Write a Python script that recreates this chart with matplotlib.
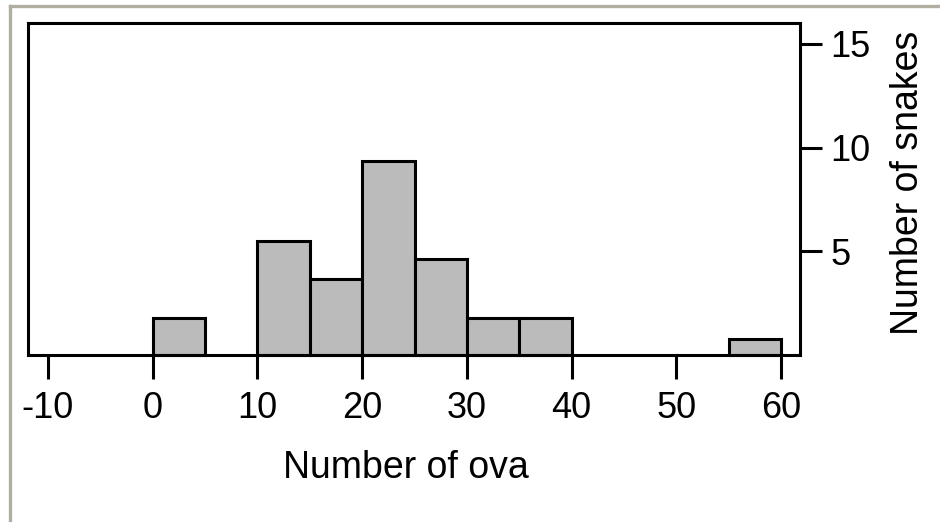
import matplotlib
matplotlib.use("Agg")
import matplotlib.pyplot as plt
from matplotlib.lines import Line2D

plt.rcParams['font.family'] = ['Liberation Sans', 'DejaVu Sans']

# histogram of ova per snake (bins 5 wide)
bin_left = [0, 10, 15, 20, 25, 30, 35, 55]
snakes = [1.8, 5.5, 3.65, 9.35, 4.65, 1.8, 1.8, 0.75]
bin_width = 5
x_ticks = [-10, 0, 10, 20, 30, 40, 50, 60]
y_ticks = [5, 10, 15]

W, H = 940, 522
fig = plt.figure(figsize=(W / 100, H / 100), dpi=100)
fig.patch.set_facecolor('white')

# thin grey frame on the top and left edges
frame_c = '#b1ada1'
fig.add_artist(Line2D([9.5 / W, 9.5 / W], [0, 1 - 5.5 / H],
                      transform=fig.transFigure, color=frame_c, lw=2.4))
fig.add_artist(Line2D([9.5 / W, 1], [1 - 5.5 / H, 1 - 5.5 / H],
                      transform=fig.transFigure, color=frame_c, lw=2.4))

ax = fig.add_axes([28 / W, 1 - 355 / H, (800 - 28) / W, (355 - 23) / H])
ax.bar(bin_left, snakes, width=bin_width, align='edge', color='#bbbbbb',
       edgecolor='black', linewidth=2.2, clip_on=False, zorder=3)

ax.set_xlim(-11.9, 61.8)
ax.set_ylim(0, 16)
ax.set_xticks(x_ticks)
ax.set_xticklabels([str(v) for v in x_ticks])
ax.set_yticks(y_ticks)
ax.yaxis.tick_right()

for s in ax.spines.values():
    s.set_linewidth(2.2)
    s.set_zorder(4)

ax.tick_params(axis='x', direction='out', length=17, width=2.2,
               labelsize=26, pad=9)
ax.tick_params(axis='y', direction='out', length=16, width=2.2,
               labelsize=26, pad=6)

fig.text(405.5 / W, 1 - 478 / H, 'Number of ova', ha='center',
         va='baseline', fontsize=27)
fig.text(908 / W, 1 - 182.5 / H, 'Number of snakes', rotation=90,
         ha='center', va='center', fontsize=27)

fig.savefig('out.png', dpi=100)
